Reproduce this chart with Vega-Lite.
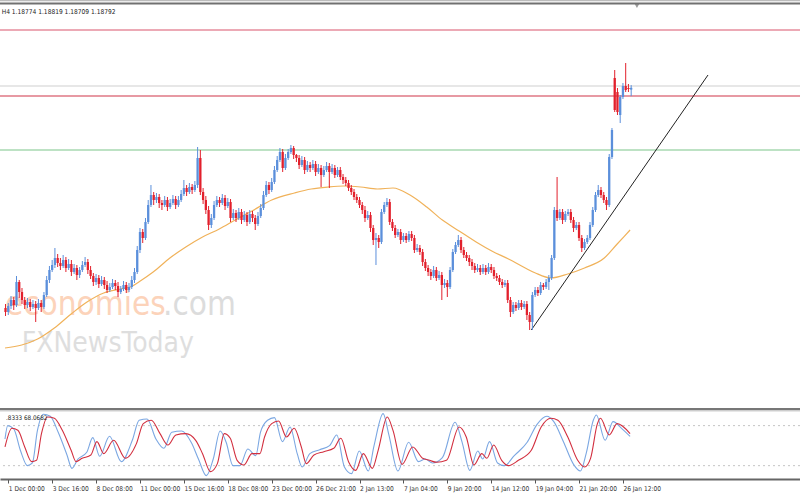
{
"$schema": "https://vega.github.io/schema/vega-lite/v6.json",
"width": 800, "height": 479,
"autosize": {"type": "none"},
"padding": {"left": 0, "top": 0, "right": 0, "bottom": 21},
"background": "white",
"config": {"view": {"stroke": null}},
"data": {"values": [{}]},
"datasets": {
"candles": [
{"i":-1,"o":1.1659,"h":1.1663,"l":1.1651,"c":1.1655},
{"i":0,"o":1.1655,"h":1.1664,"l":1.1652,"c":1.1661},
{"i":1,"o":1.1661,"h":1.1671,"l":1.1658,"c":1.1667},
{"i":2,"o":1.1667,"h":1.1670,"l":1.1657,"c":1.1662},
{"i":3,"o":1.1662,"h":1.1691,"l":1.1660,"c":1.1685},
{"i":4,"o":1.1685,"h":1.1687,"l":1.1669,"c":1.1675},
{"i":5,"o":1.1675,"h":1.1679,"l":1.1663,"c":1.1667},
{"i":6,"o":1.1667,"h":1.1670,"l":1.1658,"c":1.1662},
{"i":7,"o":1.1662,"h":1.1669,"l":1.1659,"c":1.1665},
{"i":8,"o":1.1665,"h":1.1668,"l":1.1656,"c":1.1660},
{"i":9,"o":1.1660,"h":1.1667,"l":1.1658,"c":1.1663},
{"i":10,"o":1.1663,"h":1.1666,"l":1.1645,"c":1.1659},
{"i":11,"o":1.1659,"h":1.1668,"l":1.1657,"c":1.1664},
{"i":12,"o":1.1664,"h":1.1667,"l":1.1655,"c":1.1660},
{"i":13,"o":1.1660,"h":1.1675,"l":1.1658,"c":1.1672},
{"i":14,"o":1.1672,"h":1.1691,"l":1.1670,"c":1.1687},
{"i":15,"o":1.1687,"h":1.1701,"l":1.1684,"c":1.1697},
{"i":16,"o":1.1697,"h":1.1707,"l":1.1695,"c":1.1702},
{"i":17,"o":1.1702,"h":1.1719,"l":1.1699,"c":1.1709},
{"i":18,"o":1.1709,"h":1.1713,"l":1.1700,"c":1.1704},
{"i":19,"o":1.1704,"h":1.1709,"l":1.1697,"c":1.1701},
{"i":20,"o":1.1701,"h":1.1712,"l":1.1699,"c":1.1707},
{"i":21,"o":1.1707,"h":1.1710,"l":1.1695,"c":1.1699},
{"i":22,"o":1.1699,"h":1.1708,"l":1.1697,"c":1.1703},
{"i":23,"o":1.1703,"h":1.1707,"l":1.1691,"c":1.1695},
{"i":24,"o":1.1695,"h":1.1703,"l":1.1693,"c":1.1699},
{"i":25,"o":1.1699,"h":1.1702,"l":1.1687,"c":1.1692},
{"i":26,"o":1.1692,"h":1.1700,"l":1.1689,"c":1.1697},
{"i":27,"o":1.1697,"h":1.1706,"l":1.1695,"c":1.1702},
{"i":28,"o":1.1702,"h":1.1710,"l":1.1700,"c":1.1705},
{"i":29,"o":1.1705,"h":1.1708,"l":1.1693,"c":1.1697},
{"i":30,"o":1.1697,"h":1.1701,"l":1.1688,"c":1.1691},
{"i":31,"o":1.1691,"h":1.1694,"l":1.1681,"c":1.1685},
{"i":32,"o":1.1685,"h":1.1693,"l":1.1682,"c":1.1689},
{"i":33,"o":1.1689,"h":1.1692,"l":1.1679,"c":1.1683},
{"i":34,"o":1.1683,"h":1.1691,"l":1.1681,"c":1.1687},
{"i":35,"o":1.1687,"h":1.1690,"l":1.1678,"c":1.1682},
{"i":36,"o":1.1682,"h":1.1686,"l":1.1674,"c":1.1677},
{"i":37,"o":1.1677,"h":1.1684,"l":1.1675,"c":1.1680},
{"i":38,"o":1.1680,"h":1.1688,"l":1.1678,"c":1.1684},
{"i":39,"o":1.1684,"h":1.1687,"l":1.1677,"c":1.1681},
{"i":40,"o":1.1681,"h":1.1685,"l":1.1670,"c":1.1675},
{"i":41,"o":1.1675,"h":1.1681,"l":1.1673,"c":1.1678},
{"i":42,"o":1.1678,"h":1.1686,"l":1.1676,"c":1.1682},
{"i":43,"o":1.1682,"h":1.1685,"l":1.1674,"c":1.1677},
{"i":44,"o":1.1677,"h":1.1684,"l":1.1675,"c":1.1680},
{"i":45,"o":1.1680,"h":1.1691,"l":1.1678,"c":1.1687},
{"i":46,"o":1.1687,"h":1.1699,"l":1.1684,"c":1.1695},
{"i":47,"o":1.1695,"h":1.1721,"l":1.1693,"c":1.1717},
{"i":48,"o":1.1717,"h":1.1739,"l":1.1714,"c":1.1735},
{"i":49,"o":1.1735,"h":1.1738,"l":1.1724,"c":1.1729},
{"i":50,"o":1.1729,"h":1.1749,"l":1.1727,"c":1.1745},
{"i":51,"o":1.1745,"h":1.1767,"l":1.1743,"c":1.1762},
{"i":52,"o":1.1762,"h":1.1782,"l":1.1760,"c":1.1772},
{"i":53,"o":1.1772,"h":1.1775,"l":1.1762,"c":1.1767},
{"i":54,"o":1.1767,"h":1.1774,"l":1.1764,"c":1.1770},
{"i":55,"o":1.1770,"h":1.1773,"l":1.1759,"c":1.1764},
{"i":56,"o":1.1764,"h":1.1767,"l":1.1757,"c":1.1762},
{"i":57,"o":1.1762,"h":1.1771,"l":1.1760,"c":1.1767},
{"i":58,"o":1.1767,"h":1.1770,"l":1.1756,"c":1.1760},
{"i":59,"o":1.1760,"h":1.1768,"l":1.1758,"c":1.1764},
{"i":60,"o":1.1764,"h":1.1772,"l":1.1762,"c":1.1768},
{"i":61,"o":1.1768,"h":1.1771,"l":1.1758,"c":1.1762},
{"i":62,"o":1.1762,"h":1.1771,"l":1.1760,"c":1.1767},
{"i":63,"o":1.1767,"h":1.1777,"l":1.1765,"c":1.1773},
{"i":64,"o":1.1773,"h":1.1787,"l":1.1771,"c":1.1779},
{"i":65,"o":1.1779,"h":1.1782,"l":1.1771,"c":1.1775},
{"i":66,"o":1.1775,"h":1.1784,"l":1.1773,"c":1.1780},
{"i":67,"o":1.1780,"h":1.1783,"l":1.1773,"c":1.1777},
{"i":68,"o":1.1777,"h":1.1786,"l":1.1775,"c":1.1782},
{"i":69,"o":1.1782,"h":1.1820,"l":1.1779,"c":1.1809},
{"i":70,"o":1.1809,"h":1.1817,"l":1.1772,"c":1.1775},
{"i":71,"o":1.1775,"h":1.1779,"l":1.1763,"c":1.1767},
{"i":72,"o":1.1767,"h":1.1771,"l":1.1753,"c":1.1757},
{"i":73,"o":1.1757,"h":1.1761,"l":1.1737,"c":1.1742},
{"i":74,"o":1.1742,"h":1.1753,"l":1.1739,"c":1.1749},
{"i":75,"o":1.1749,"h":1.1766,"l":1.1747,"c":1.1762},
{"i":76,"o":1.1762,"h":1.1771,"l":1.1760,"c":1.1767},
{"i":77,"o":1.1767,"h":1.1770,"l":1.1760,"c":1.1764},
{"i":78,"o":1.1764,"h":1.1773,"l":1.1762,"c":1.1769},
{"i":79,"o":1.1769,"h":1.1772,"l":1.1757,"c":1.1761},
{"i":80,"o":1.1761,"h":1.1769,"l":1.1759,"c":1.1765},
{"i":81,"o":1.1765,"h":1.1768,"l":1.1745,"c":1.1749},
{"i":82,"o":1.1749,"h":1.1758,"l":1.1747,"c":1.1754},
{"i":83,"o":1.1754,"h":1.1757,"l":1.1745,"c":1.1749},
{"i":84,"o":1.1749,"h":1.1759,"l":1.1747,"c":1.1755},
{"i":85,"o":1.1755,"h":1.1758,"l":1.1743,"c":1.1747},
{"i":86,"o":1.1747,"h":1.1756,"l":1.1745,"c":1.1752},
{"i":87,"o":1.1752,"h":1.1755,"l":1.1741,"c":1.1745},
{"i":88,"o":1.1745,"h":1.1757,"l":1.1743,"c":1.1753},
{"i":89,"o":1.1753,"h":1.1756,"l":1.1745,"c":1.1749},
{"i":90,"o":1.1749,"h":1.1752,"l":1.1737,"c":1.1743},
{"i":91,"o":1.1743,"h":1.1755,"l":1.1741,"c":1.1751},
{"i":92,"o":1.1751,"h":1.1763,"l":1.1749,"c":1.1759},
{"i":93,"o":1.1759,"h":1.1776,"l":1.1757,"c":1.1772},
{"i":94,"o":1.1772,"h":1.1786,"l":1.1770,"c":1.1782},
{"i":95,"o":1.1782,"h":1.1785,"l":1.1773,"c":1.1777},
{"i":96,"o":1.1777,"h":1.1789,"l":1.1775,"c":1.1785},
{"i":97,"o":1.1785,"h":1.1801,"l":1.1783,"c":1.1797},
{"i":98,"o":1.1797,"h":1.1811,"l":1.1795,"c":1.1807},
{"i":99,"o":1.1807,"h":1.1819,"l":1.1805,"c":1.1815},
{"i":100,"o":1.1815,"h":1.1818,"l":1.1795,"c":1.1799},
{"i":101,"o":1.1799,"h":1.1813,"l":1.1797,"c":1.1809},
{"i":102,"o":1.1809,"h":1.1818,"l":1.1807,"c":1.1815},
{"i":103,"o":1.1815,"h":1.1822,"l":1.1813,"c":1.1819},
{"i":104,"o":1.1819,"h":1.1821,"l":1.1808,"c":1.1812},
{"i":105,"o":1.1812,"h":1.1813,"l":1.1805,"c":1.1809},
{"i":106,"o":1.1809,"h":1.1812,"l":1.1798,"c":1.1802},
{"i":107,"o":1.1802,"h":1.1811,"l":1.1800,"c":1.1807},
{"i":108,"o":1.1807,"h":1.1810,"l":1.1793,"c":1.1797},
{"i":109,"o":1.1797,"h":1.1806,"l":1.1795,"c":1.1802},
{"i":110,"o":1.1802,"h":1.1805,"l":1.1795,"c":1.1799},
{"i":111,"o":1.1799,"h":1.1807,"l":1.1797,"c":1.1803},
{"i":112,"o":1.1803,"h":1.1806,"l":1.1791,"c":1.1795},
{"i":113,"o":1.1795,"h":1.1803,"l":1.1793,"c":1.1799},
{"i":114,"o":1.1799,"h":1.1802,"l":1.1780,"c":1.1792},
{"i":115,"o":1.1792,"h":1.1801,"l":1.1790,"c":1.1797},
{"i":116,"o":1.1797,"h":1.1805,"l":1.1795,"c":1.1801},
{"i":117,"o":1.1801,"h":1.1804,"l":1.1779,"c":1.1795},
{"i":118,"o":1.1795,"h":1.1803,"l":1.1793,"c":1.1799},
{"i":119,"o":1.1799,"h":1.1802,"l":1.1789,"c":1.1792},
{"i":120,"o":1.1792,"h":1.1800,"l":1.1790,"c":1.1797},
{"i":121,"o":1.1797,"h":1.1800,"l":1.1787,"c":1.1790},
{"i":122,"o":1.1790,"h":1.1793,"l":1.1783,"c":1.1787},
{"i":123,"o":1.1787,"h":1.1790,"l":1.1781,"c":1.1784},
{"i":124,"o":1.1784,"h":1.1787,"l":1.1776,"c":1.1779},
{"i":125,"o":1.1779,"h":1.1782,"l":1.1772,"c":1.1775},
{"i":126,"o":1.1775,"h":1.1778,"l":1.1767,"c":1.1770},
{"i":127,"o":1.1770,"h":1.1773,"l":1.1764,"c":1.1767},
{"i":128,"o":1.1767,"h":1.1770,"l":1.1759,"c":1.1762},
{"i":129,"o":1.1762,"h":1.1765,"l":1.1753,"c":1.1757},
{"i":130,"o":1.1757,"h":1.1761,"l":1.1745,"c":1.1749},
{"i":131,"o":1.1749,"h":1.1756,"l":1.1747,"c":1.1752},
{"i":132,"o":1.1752,"h":1.1755,"l":1.1735,"c":1.1739},
{"i":133,"o":1.1739,"h":1.1742,"l":1.1722,"c":1.1727},
{"i":134,"o":1.1727,"h":1.1734,"l":1.1702,"c":1.1729},
{"i":135,"o":1.1729,"h":1.1732,"l":1.1719,"c":1.1725},
{"i":136,"o":1.1725,"h":1.1758,"l":1.1723,"c":1.1755},
{"i":137,"o":1.1755,"h":1.1765,"l":1.1753,"c":1.1762},
{"i":138,"o":1.1762,"h":1.1769,"l":1.1760,"c":1.1765},
{"i":139,"o":1.1765,"h":1.1768,"l":1.1742,"c":1.1745},
{"i":140,"o":1.1745,"h":1.1748,"l":1.1736,"c":1.1739},
{"i":141,"o":1.1739,"h":1.1742,"l":1.1729,"c":1.1732},
{"i":142,"o":1.1732,"h":1.1738,"l":1.1730,"c":1.1735},
{"i":143,"o":1.1735,"h":1.1738,"l":1.1723,"c":1.1727},
{"i":144,"o":1.1727,"h":1.1734,"l":1.1725,"c":1.1731},
{"i":145,"o":1.1731,"h":1.1734,"l":1.1724,"c":1.1727},
{"i":146,"o":1.1727,"h":1.1736,"l":1.1725,"c":1.1733},
{"i":147,"o":1.1733,"h":1.1736,"l":1.1726,"c":1.1729},
{"i":148,"o":1.1729,"h":1.1732,"l":1.1714,"c":1.1717},
{"i":149,"o":1.1717,"h":1.1723,"l":1.1715,"c":1.1719},
{"i":150,"o":1.1719,"h":1.1722,"l":1.1712,"c":1.1715},
{"i":151,"o":1.1715,"h":1.1718,"l":1.1701,"c":1.1705},
{"i":152,"o":1.1705,"h":1.1708,"l":1.1696,"c":1.1699},
{"i":153,"o":1.1699,"h":1.1702,"l":1.1691,"c":1.1695},
{"i":154,"o":1.1695,"h":1.1698,"l":1.1687,"c":1.1691},
{"i":155,"o":1.1691,"h":1.1701,"l":1.1689,"c":1.1697},
{"i":156,"o":1.1697,"h":1.1700,"l":1.1686,"c":1.1689},
{"i":157,"o":1.1689,"h":1.1696,"l":1.1687,"c":1.1692},
{"i":158,"o":1.1692,"h":1.1695,"l":1.1667,"c":1.1682},
{"i":159,"o":1.1682,"h":1.1688,"l":1.1679,"c":1.1684},
{"i":160,"o":1.1684,"h":1.1687,"l":1.1670,"c":1.1680},
{"i":161,"o":1.1680,"h":1.1700,"l":1.1678,"c":1.1697},
{"i":162,"o":1.1697,"h":1.1718,"l":1.1695,"c":1.1715},
{"i":163,"o":1.1715,"h":1.1725,"l":1.1713,"c":1.1722},
{"i":164,"o":1.1722,"h":1.1732,"l":1.1720,"c":1.1727},
{"i":165,"o":1.1727,"h":1.1730,"l":1.1714,"c":1.1717},
{"i":166,"o":1.1717,"h":1.1720,"l":1.1709,"c":1.1712},
{"i":167,"o":1.1712,"h":1.1715,"l":1.1706,"c":1.1709},
{"i":168,"o":1.1709,"h":1.1712,"l":1.1701,"c":1.1705},
{"i":169,"o":1.1705,"h":1.1708,"l":1.1697,"c":1.1701},
{"i":170,"o":1.1701,"h":1.1704,"l":1.1694,"c":1.1697},
{"i":171,"o":1.1697,"h":1.1703,"l":1.1695,"c":1.1699},
{"i":172,"o":1.1699,"h":1.1702,"l":1.1692,"c":1.1695},
{"i":173,"o":1.1695,"h":1.1703,"l":1.1693,"c":1.1699},
{"i":174,"o":1.1699,"h":1.1702,"l":1.1692,"c":1.1695},
{"i":175,"o":1.1695,"h":1.1704,"l":1.1693,"c":1.1700},
{"i":176,"o":1.1700,"h":1.1703,"l":1.1694,"c":1.1697},
{"i":177,"o":1.1697,"h":1.1700,"l":1.1688,"c":1.1691},
{"i":178,"o":1.1691,"h":1.1694,"l":1.1686,"c":1.1689},
{"i":179,"o":1.1689,"h":1.1692,"l":1.1682,"c":1.1685},
{"i":180,"o":1.1685,"h":1.1688,"l":1.1679,"c":1.1682},
{"i":181,"o":1.1682,"h":1.1687,"l":1.1680,"c":1.1684},
{"i":182,"o":1.1684,"h":1.1687,"l":1.1664,"c":1.1667},
{"i":183,"o":1.1667,"h":1.1670,"l":1.1650,"c":1.1655},
{"i":184,"o":1.1655,"h":1.1665,"l":1.1653,"c":1.1662},
{"i":185,"o":1.1662,"h":1.1665,"l":1.1656,"c":1.1659},
{"i":186,"o":1.1659,"h":1.1667,"l":1.1657,"c":1.1664},
{"i":187,"o":1.1664,"h":1.1667,"l":1.1657,"c":1.1660},
{"i":188,"o":1.1660,"h":1.1666,"l":1.1658,"c":1.1663},
{"i":189,"o":1.1663,"h":1.1666,"l":1.1647,"c":1.1652},
{"i":190,"o":1.1652,"h":1.1655,"l":1.1637,"c":1.1645},
{"i":191,"o":1.1645,"h":1.1675,"l":1.1637,"c":1.1672},
{"i":192,"o":1.1672,"h":1.1680,"l":1.1670,"c":1.1677},
{"i":193,"o":1.1677,"h":1.1680,"l":1.1671,"c":1.1674},
{"i":194,"o":1.1674,"h":1.1685,"l":1.1672,"c":1.1682},
{"i":195,"o":1.1682,"h":1.1684,"l":1.1677,"c":1.1680},
{"i":196,"o":1.1680,"h":1.1688,"l":1.1678,"c":1.1685},
{"i":197,"o":1.1685,"h":1.1692,"l":1.1677,"c":1.1689},
{"i":198,"o":1.1689,"h":1.1712,"l":1.1687,"c":1.1709},
{"i":199,"o":1.1709,"h":1.1760,"l":1.1707,"c":1.1757},
{"i":200,"o":1.1757,"h":1.1790,"l":1.1746,"c":1.1749},
{"i":201,"o":1.1749,"h":1.1758,"l":1.1747,"c":1.1755},
{"i":202,"o":1.1755,"h":1.1758,"l":1.1743,"c":1.1747},
{"i":203,"o":1.1747,"h":1.1756,"l":1.1745,"c":1.1753},
{"i":204,"o":1.1753,"h":1.1758,"l":1.1751,"c":1.1755},
{"i":205,"o":1.1755,"h":1.1758,"l":1.1744,"c":1.1747},
{"i":206,"o":1.1747,"h":1.1750,"l":1.1735,"c":1.1739},
{"i":207,"o":1.1739,"h":1.1745,"l":1.1737,"c":1.1742},
{"i":208,"o":1.1742,"h":1.1745,"l":1.1726,"c":1.1729},
{"i":209,"o":1.1729,"h":1.1732,"l":1.1715,"c":1.1719},
{"i":210,"o":1.1719,"h":1.1728,"l":1.1717,"c":1.1725},
{"i":211,"o":1.1725,"h":1.1732,"l":1.1723,"c":1.1729},
{"i":212,"o":1.1729,"h":1.1745,"l":1.1727,"c":1.1742},
{"i":213,"o":1.1742,"h":1.1760,"l":1.1740,"c":1.1757},
{"i":214,"o":1.1757,"h":1.1775,"l":1.1755,"c":1.1772},
{"i":215,"o":1.1772,"h":1.1782,"l":1.1770,"c":1.1777},
{"i":216,"o":1.1777,"h":1.1780,"l":1.1769,"c":1.1772},
{"i":217,"o":1.1772,"h":1.1775,"l":1.1764,"c":1.1767},
{"i":218,"o":1.1767,"h":1.1770,"l":1.1757,"c":1.1762},
{"i":219,"o":1.1762,"h":1.1813,"l":1.1760,"c":1.1810},
{"i":220,"o":1.1810,"h":1.1839,"l":1.1808,"c":1.1837},
{"i":221,"o":1.1889,"h":1.1897,"l":1.1855,"c":1.1857},
{"i":222,"o":1.1875,"h":1.1879,"l":1.1852,"c":1.1855},
{"i":223,"o":1.1852,"h":1.1872,"l":1.1844,"c":1.1870},
{"i":224,"o":1.1870,"h":1.1884,"l":1.1868,"c":1.1881},
{"i":225,"o":1.1881,"h":1.1904,"l":1.1875,"c":1.1877},
{"i":226,"o":1.1879,"h":1.1883,"l":1.1875,"c":1.1878},
{"i":227,"o":1.18774,"h":1.18819,"l":1.18709,"c":1.18792}
],
"ma": [
{"i":-1.19,"p":1.1619},{"i":4.9,"p":1.1622},{"i":10.7,"p":1.1628},{"i":16.8,"p":1.1639},{"i":22.9,"p":1.1653},{"i":28.7,"p":1.1665},{"i":34.8,"p":1.1674},{"i":40.9,"p":1.1678},{"i":44.5,"p":1.1680},{"i":48.1,"p":1.1686},{"i":52.8,"p":1.1695},{"i":58.9,"p":1.1709},{"i":64.7,"p":1.1720},{"i":70.8,"p":1.1730},{"i":76.9,"p":1.1738},{"i":82.7,"p":1.1747},{"i":88.8,"p":1.1756},{"i":96,"p":1.1767},{"i":104.3,"p":1.1774},{"i":110.4,"p":1.1778},{"i":116.5,"p":1.1780},{"i":122.2,"p":1.1781},{"i":128.4,"p":1.1780},{"i":134.5,"p":1.1778},{"i":140.2,"p":1.1779},{"i":146.4,"p":1.1772},{"i":152.5,"p":1.1760},{"i":158.2,"p":1.1747},{"i":164.3,"p":1.1736},{"i":170.5,"p":1.1725},{"i":176.2,"p":1.1716},{"i":182.3,"p":1.1708},{"i":188.4,"p":1.1699},{"i":192.1,"p":1.1694},{"i":197.8,"p":1.1689},{"i":203.9,"p":1.1693},{"i":210,"p":1.1699},{"i":217.2,"p":1.1709},{"i":221.9,"p":1.1723},{"i":226.6,"p":1.1737}
],
"levels": [
{"p":1.1937,"name":"R2"},{"p":1.1881,"name":"R1b"},{"p":1.1871,"name":"R1"},{"p":1.1817,"name":"S1"}
],
"trend": [{"i":190.6,"p":1.1637},{"i":255.0,"p":1.1892}],
"stoch": [
{"i":-1.19,"v":60,"s":"main"},{"i":-0.2,"v":80,"s":"main"},{"i":2.0,"v":75,"s":"main"},{"i":4.5,"v":42,"s":"main"},{"i":7.0,"v":20,"s":"main"},{"i":8.8,"v":24,"s":"main"},{"i":10.6,"v":72,"s":"main"},{"i":12.8,"v":97,"s":"main"},{"i":15.3,"v":94,"s":"main"},{"i":18.2,"v":70,"s":"main"},{"i":21.4,"v":36,"s":"main"},{"i":23.2,"v":16,"s":"main"},{"i":25.4,"v":30,"s":"main"},{"i":28.6,"v":40,"s":"main"},{"i":30.8,"v":62,"s":"main"},{"i":33.3,"v":34,"s":"main"},{"i":36.9,"v":64,"s":"main"},{"i":41.2,"v":26,"s":"main"},{"i":45.2,"v":58,"s":"main"},{"i":47.7,"v":88,"s":"main"},{"i":50.6,"v":90,"s":"main"},{"i":53.8,"v":60,"s":"main"},{"i":56.7,"v":46,"s":"main"},{"i":59.6,"v":70,"s":"main"},{"i":63.2,"v":72,"s":"main"},{"i":66.8,"v":54,"s":"main"},{"i":69.3,"v":30,"s":"main"},{"i":72.2,"v":5,"s":"main"},{"i":74.7,"v":30,"s":"main"},{"i":77.2,"v":72,"s":"main"},{"i":79.4,"v":55,"s":"main"},{"i":81.9,"v":20,"s":"main"},{"i":84.4,"v":20,"s":"main"},{"i":87.3,"v":45,"s":"main"},{"i":90.2,"v":35,"s":"main"},{"i":91.9,"v":70,"s":"main"},{"i":94.5,"v":88,"s":"main"},{"i":97.0,"v":92,"s":"main"},{"i":99.9,"v":56,"s":"main"},{"i":102.7,"v":78,"s":"main"},{"i":105.3,"v":38,"s":"main"},{"i":107.1,"v":18,"s":"main"},{"i":109.9,"v":38,"s":"main"},{"i":113.5,"v":44,"s":"main"},{"i":117.1,"v":50,"s":"main"},{"i":119.7,"v":66,"s":"main"},{"i":122.5,"v":18,"s":"main"},{"i":125.1,"v":8,"s":"main"},{"i":127.9,"v":42,"s":"main"},{"i":131.2,"v":12,"s":"main"},{"i":133.3,"v":50,"s":"main"},{"i":136.6,"v":98,"s":"main"},{"i":138.7,"v":66,"s":"main"},{"i":142.0,"v":12,"s":"main"},{"i":145.9,"v":55,"s":"main"},{"i":149.5,"v":26,"s":"main"},{"i":152.0,"v":30,"s":"main"},{"i":154.6,"v":24,"s":"main"},{"i":158.2,"v":32,"s":"main"},{"i":162.8,"v":85,"s":"main"},{"i":165.4,"v":55,"s":"main"},{"i":168.2,"v":13,"s":"main"},{"i":171.1,"v":42,"s":"main"},{"i":172.9,"v":30,"s":"main"},{"i":175.4,"v":56,"s":"main"},{"i":178.3,"v":24,"s":"main"},{"i":180.8,"v":20,"s":"main"},{"i":184.4,"v":35,"s":"main"},{"i":189.1,"v":55,"s":"main"},{"i":192.7,"v":82,"s":"main"},{"i":196.3,"v":94,"s":"main"},{"i":198.8,"v":86,"s":"main"},{"i":202.4,"v":55,"s":"main"},{"i":206.0,"v":22,"s":"main"},{"i":208.5,"v":12,"s":"main"},{"i":210.7,"v":40,"s":"main"},{"i":213.2,"v":88,"s":"main"},{"i":214.3,"v":96,"s":"main"},{"i":217.5,"v":58,"s":"main"},{"i":220.4,"v":86,"s":"main"},{"i":223.5,"v":76,"s":"main"},{"i":226.6,"v":63.83,"s":"main"},
{"i":-1.19,"v":48,"s":"signal"},{"i":1.3,"v":76,"s":"signal"},{"i":3.5,"v":73,"s":"signal"},{"i":6,"v":48,"s":"signal"},{"i":8.5,"v":26,"s":"signal"},{"i":10.3,"v":28,"s":"signal"},{"i":12.1,"v":68,"s":"signal"},{"i":14.3,"v":93,"s":"signal"},{"i":16.8,"v":91,"s":"signal"},{"i":19.7,"v":73,"s":"signal"},{"i":22.9,"v":43,"s":"signal"},{"i":24.7,"v":26,"s":"signal"},{"i":26.9,"v":31,"s":"signal"},{"i":30.1,"v":36,"s":"signal"},{"i":32.3,"v":56,"s":"signal"},{"i":34.8,"v":38,"s":"signal"},{"i":38.4,"v":58,"s":"signal"},{"i":42.7,"v":31,"s":"signal"},{"i":46.7,"v":53,"s":"signal"},{"i":49.2,"v":83,"s":"signal"},{"i":52.1,"v":88,"s":"signal"},{"i":55.3,"v":68,"s":"signal"},{"i":58.2,"v":51,"s":"signal"},{"i":61.1,"v":66,"s":"signal"},{"i":64.7,"v":68,"s":"signal"},{"i":68.3,"v":58,"s":"signal"},{"i":70.8,"v":38,"s":"signal"},{"i":73.7,"v":11,"s":"signal"},{"i":76.2,"v":23,"s":"signal"},{"i":78.7,"v":68,"s":"signal"},{"i":80.9,"v":61,"s":"signal"},{"i":83.4,"v":28,"s":"signal"},{"i":85.9,"v":21,"s":"signal"},{"i":88.8,"v":38,"s":"signal"},{"i":91.7,"v":38,"s":"signal"},{"i":93.4,"v":63,"s":"signal"},{"i":96,"v":83,"s":"signal"},{"i":98.5,"v":87,"s":"signal"},{"i":101.4,"v":63,"s":"signal"},{"i":104.2,"v":76,"s":"signal"},{"i":106.8,"v":48,"s":"signal"},{"i":108.6,"v":23,"s":"signal"},{"i":111.4,"v":36,"s":"signal"},{"i":115,"v":41,"s":"signal"},{"i":118.6,"v":46,"s":"signal"},{"i":121.2,"v":61,"s":"signal"},{"i":124,"v":26,"s":"signal"},{"i":126.6,"v":13,"s":"signal"},{"i":129.4,"v":38,"s":"signal"},{"i":132.7,"v":16,"s":"signal"},{"i":134.8,"v":43,"s":"signal"},{"i":138.1,"v":93,"s":"signal"},{"i":140.2,"v":73,"s":"signal"},{"i":143.5,"v":22,"s":"signal"},{"i":147.4,"v":48,"s":"signal"},{"i":151,"v":31,"s":"signal"},{"i":153.5,"v":28,"s":"signal"},{"i":156.1,"v":25,"s":"signal"},{"i":159.7,"v":28,"s":"signal"},{"i":164.3,"v":78,"s":"signal"},{"i":166.9,"v":63,"s":"signal"},{"i":169.7,"v":21,"s":"signal"},{"i":172.6,"v":38,"s":"signal"},{"i":174.4,"v":31,"s":"signal"},{"i":176.9,"v":51,"s":"signal"},{"i":179.8,"v":28,"s":"signal"},{"i":182.3,"v":20,"s":"signal"},{"i":185.9,"v":28,"s":"signal"},{"i":190.6,"v":43,"s":"signal"},{"i":194.2,"v":78,"s":"signal"},{"i":197.8,"v":91,"s":"signal"},{"i":200.3,"v":88,"s":"signal"},{"i":203.9,"v":63,"s":"signal"},{"i":207.5,"v":28,"s":"signal"},{"i":210,"v":18,"s":"signal"},{"i":212.2,"v":31,"s":"signal"},{"i":214.7,"v":83,"s":"signal"},{"i":215.8,"v":91,"s":"signal"},{"i":219,"v":66,"s":"signal"},{"i":221.9,"v":83,"s":"signal"},{"i":226.6,"v":68.07,"s":"signal"}
]
},
"layer": [
{
"layer": [
{"mark": {"type": "text", "align": "left", "baseline": "alphabetic", "font": "DejaVu Sans Condensed, sans-serif", "fontSize": 33, "color": "#fcd3ba", "text": "economies"},
 "encoding": {"x": {"datum": -1.19, "type": "quantitative", "scale": {"domain": [-1.19, 286.7], "nice": false, "zero": false},
   "axis": {"values": [0,16,32,48,64,80,96,112,128,144,160,176,192,208,224], "labelExpr": "['1 Dec 00:00','3 Dec 16:00','8 Dec 08:00','11 Dec 00:00','15 Dec 16:00','18 Dec 08:00','23 Dec 00:00','26 Dec 21:00','2 Jan 13:00','7 Jan 04:00','9 Jan 20:00','14 Jan 12:00','19 Jan 04:00','21 Jan 20:00','26 Jan 12:00'][round(datum.value/16)]", "title": null, "grid": false, "labelAlign": "left", "labelBaseline": "top", "labelFont": "DejaVu Sans Condensed, sans-serif", "labelFontSize": 6.6, "labelColor": "#333333", "labelPadding": 2, "labelDx": 1, "labelFlush": false, "labelOverlap": false, "tickSize": 4, "tickColor": "#555555", "domainColor": "#666666", "domainWidth": 2}},
  "y": {"datum": 1.1652, "type": "quantitative", "scale": {"domain": [1.1488, 1.1967], "nice": false, "zero": false}, "axis": null}}},
{"mark": {"type": "text", "align": "left", "baseline": "alphabetic", "font": "DejaVu Sans Condensed, sans-serif", "fontSize": 33, "color": "#dcdcdc", "text": ".com"},
 "encoding": {"x": {"datum": 56.4, "type": "quantitative"}, "y": {"datum": 1.1652, "type": "quantitative", "axis": null}}},
{"mark": {"type": "text", "align": "left", "baseline": "alphabetic", "font": "DejaVu Sans Condensed, sans-serif", "fontSize": 28, "color": "#dedede", "text": "FXNewsToday"},
 "encoding": {"x": {"datum": 4.9, "type": "quantitative"}, "y": {"datum": 1.1615, "type": "quantitative", "axis": null}}},
{"data": {"name": "levels"}, "mark": {"type": "rule", "strokeWidth": 1.2},
 "encoding": {"y": {"field": "p", "type": "quantitative", "axis": null}, "color": {"field": "name", "type": "nominal", "scale": {"domain": ["R2", "R1b", "R1", "S1"], "range": ["#d9546c", "#cfcfcf", "#cf3448", "#7cc58a"]}, "legend": null}}},
{"data": {"name": "ma"}, "mark": {"type": "line", "color": "#f0b25a", "strokeWidth": 1.2, "interpolate": "monotone"},
 "encoding": {"x": {"field": "i", "type": "quantitative"}, "y": {"field": "p", "type": "quantitative", "axis": null}}},
{"data": {"name": "trend"}, "mark": {"type": "line", "color": "#222222", "strokeWidth": 1},
 "encoding": {"x": {"field": "i", "type": "quantitative"}, "y": {"field": "p", "type": "quantitative", "axis": null}}},
{"data": {"name": "candles"}, "mark": {"type": "rule", "strokeWidth": 1},
 "encoding": {"x": {"field": "i", "type": "quantitative"}, "y": {"field": "l", "type": "quantitative", "axis": null}, "y2": {"field": "h"},
  "color": {"condition": {"test": "datum.c >= datum.o", "value": "#5b8fdb"}, "value": "#e2202c"}}},
{"data": {"name": "candles"}, "mark": {"type": "bar", "width": 2.3},
 "encoding": {"x": {"field": "i", "type": "quantitative"},
  "y": {"field": "o", "type": "quantitative", "axis": null}, "y2": {"field": "c"},
  "color": {"condition": {"test": "datum.c >= datum.o", "value": "#5b8fdb"}, "value": "#e2202c"}}},
{"mark": {"type": "text", "align": "left", "baseline": "middle", "font": "DejaVu Sans Condensed, sans-serif", "fontSize": 6.6, "color": "#222222", "text": "H4 1.18774 1.18819 1.18709 1.18792"},
 "encoding": {"x": {"datum": -2.4, "type": "quantitative"}, "y": {"datum": 1.1955, "type": "quantitative", "axis": null}}},
{"mark": {"type": "point", "shape": "triangle-down", "filled": true, "size": 20, "color": "#999999", "opacity": 1},
 "encoding": {"x": {"datum": 229.1, "type": "quantitative"}, "y": {"datum": 1.1961, "type": "quantitative", "axis": null}}}
]
},
{
"layer": [
{"mark": {"type": "rule", "color": "#c4c4c4", "strokeDash": [2, 3], "strokeWidth": 1},
 "encoding": {"y": {"datum": 80, "type": "quantitative", "scale": {"domain": [0, 718.1], "nice": false, "zero": false}, "axis": null}}},
{"mark": {"type": "rule", "color": "#c4c4c4", "strokeDash": [2, 3], "strokeWidth": 1},
 "encoding": {"y": {"datum": 20, "type": "quantitative", "axis": null}}},
{"mark": {"type": "rule", "color": "#777777", "strokeWidth": 2},
 "encoding": {"y": {"datum": 105, "type": "quantitative", "axis": null}}},
{"mark": {"type": "rule", "color": "#b5b5b5", "strokeWidth": 1},
 "encoding": {"y": {"datum": 102.2, "type": "quantitative", "axis": null}}},
{"mark": {"type": "rule", "color": "#707070", "strokeWidth": 2},
 "encoding": {"y": {"datum": 712.8, "type": "quantitative", "axis": null}}},
{"mark": {"type": "rule", "color": "#aaaaaa", "strokeWidth": 1},
 "encoding": {"y": {"datum": 717, "type": "quantitative", "axis": null}}},
{"data": {"name": "stoch"}, "mark": {"type": "line", "strokeWidth": 1.1, "interpolate": "monotone"},
 "encoding": {"x": {"field": "i", "type": "quantitative"}, "y": {"field": "v", "type": "quantitative", "axis": null},
  "color": {"field": "s", "type": "nominal", "scale": {"domain": ["main", "signal"], "range": ["#7ba7e2", "#d22f3f"]}, "legend": null}}},
{"mark": {"type": "text", "align": "left", "baseline": "middle", "font": "DejaVu Sans Condensed, sans-serif", "fontSize": 6.3, "color": "#222222", "text": ".8333 68.0682"},
 "encoding": {"x": {"datum": -0.83, "type": "quantitative"}, "y": {"datum": 91.5, "type": "quantitative", "axis": null}}}
]
}
],
"resolve": {"scale": {"y": "independent", "color": "independent"}}
}
